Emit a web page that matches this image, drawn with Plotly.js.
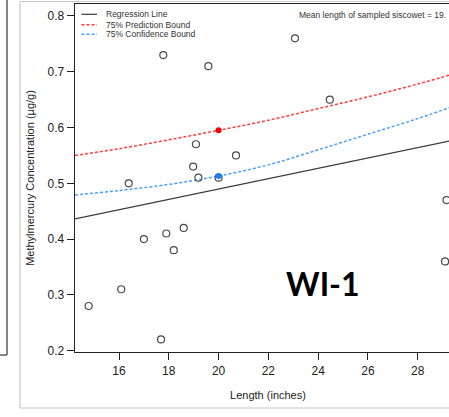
<!DOCTYPE html>
<html>
<head>
<meta charset="utf-8">
<script src="https://cdn.plot.ly/plotly-3.0.1.min.js"></script>
<style>
html,body{margin:0;padding:0;overflow:hidden;background:#fff;width:449px;height:417px;}
#chart{width:470px;height:417px;}
</style>
</head>
<body>
<div id="chart"></div>
<script>
// ---- data ----
var lengthIn = [17.78, 19.59, 23.07, 24.47, 19.09, 20.70, 18.98, 16.39, 19.19, 20.00, 17.00, 17.90, 18.60, 18.20, 29.16, 29.10, 14.78, 16.09, 17.69];
var mehg     = [0.73, 0.71, 0.76, 0.65, 0.57, 0.55, 0.53, 0.50, 0.51, 0.51, 0.40, 0.41, 0.42, 0.38, 0.47, 0.36, 0.28, 0.31, 0.22];

var regX = [14.23, 29.75];
var regY = [0.436, 0.580];

var boundX    = [14.23, 16, 18, 20, 22, 24, 26, 28, 29.75];
var predUpper = [0.550, 0.562, 0.578, 0.595, 0.613, 0.634, 0.655, 0.678, 0.700];
var confUpper = [0.479, 0.487, 0.498, 0.513, 0.533, 0.560, 0.588, 0.616, 0.643];

var meanX = [20];
var predAtMean = [0.595];
var confAtMean = [0.513];

var xTicks = [16, 18, 20, 22, 24, 26, 28];
var yTicks = [0.2, 0.3, 0.4, 0.5, 0.6, 0.7, 0.8];

var legendLabels = ['Regression Line', '75% Prediction Bound', '75% Confidence Bound'];
var noteText = 'Mean length of sampled siscowet = 19.';
var siteLabel = 'WI-1';

// ---- geometry helpers (pixel -> paper) ----
var W = 470, H = 417, mL = 75, mR = 9, mT = 4, mB = 65;
var pw = W - mL - mR, ph = H - mT - mB;
function px(x){ return (x - mL) / pw; }
function py(y){ return (H - mB - y) / ph; }

var RED = '#ff3b3b', BLUE = '#4aa0ff', REG = '#3a3a3a', PT = '#4a4a4a';
var FONT = 'Liberation Sans, Arial, sans-serif';

var traces = [
  {x: regX, y: regY, mode: 'lines', line: {color: REG, width: 1.2}, hoverinfo: 'skip'},
  {x: boundX, y: predUpper, mode: 'lines', line: {color: RED, width: 1.5, dash: '3px,2px', shape: 'spline'}},
  {x: boundX, y: confUpper, mode: 'lines', line: {color: BLUE, width: 1.5, dash: '3px,2px', shape: 'spline'}},
  {x: lengthIn, y: mehg, mode: 'markers', marker: {symbol: 'circle-open', size: 7, color: PT, line: {width: 1.2, color: PT}}},
  {x: meanX, y: predAtMean, mode: 'markers', marker: {symbol: 'circle', size: 6, color: '#ff0000'}},
  {x: meanX, y: confAtMean, mode: 'markers', marker: {symbol: 'circle', size: 6, color: '#1a7fff'}}
];

var shapes = [
  // outer screenshot frame
  {type:'line', xref:'paper', yref:'paper', x0:px(20), x1:px(20), y0:py(2), y1:py(408), line:{color:'#c8c8c8', width:1.2}},
  {type:'line', xref:'paper', yref:'paper', x0:px(20), x1:px(470), y0:py(408), y1:py(408), line:{color:'#c8c8c8', width:1.2}},
  {type:'line', xref:'paper', yref:'paper', x0:px(20), x1:px(470), y0:py(1.5), y1:py(1.5), line:{color:'#c8c8c8', width:1.2}},
  {type:'line', xref:'paper', yref:'paper', x0:px(7), x1:px(7), y0:py(0), y1:py(355), line:{color:'#444', width:1.3}},
  {type:'line', xref:'paper', yref:'paper', x0:px(0), x1:px(7), y0:py(355), y1:py(355), line:{color:'#444', width:1.3}},
  // manual legend lines
  {type:'line', xref:'paper', yref:'paper', x0:px(81.5), x1:px(97), y0:py(14.3), y1:py(14.3), line:{color:REG, width:1.2}},
  {type:'line', xref:'paper', yref:'paper', x0:px(81.5), x1:px(97), y0:py(24.7), y1:py(24.7), line:{color:RED, width:1.5, dash:'3px,2px'}},
  {type:'line', xref:'paper', yref:'paper', x0:px(81.5), x1:px(97), y0:py(34.3), y1:py(34.3), line:{color:BLUE, width:1.5, dash:'3px,2px'}}
];

var legY = [14.3, 24.7, 34.3];
var annotations = legendLabels.map(function(t, i){
  return {text: t, xref:'paper', yref:'paper', x:px(103.5), y:py(legY[i]), xanchor:'left', yanchor:'middle',
          showarrow:false, font:{family:FONT, size:8.5, color:'#333'}};
});
annotations.push({text: noteText, xref:'paper', yref:'paper', x:px(448), y:py(15), xanchor:'right', yanchor:'middle',
                  showarrow:false, font:{family:FONT, size:8.5, color:'#333'}});
annotations.push({text: '<b>' + siteLabel + '</b>', xref:'paper', yref:'paper', x:px(323), y:py(283), xanchor:'center', yanchor:'middle',
                  showarrow:false, font:{family:'Lato, Open Sans, sans-serif', size:32, color:'#000'}});

var layout = {
  width: W, height: H,
  margin: {l: mL, r: mR, t: mT, b: mB, pad: 0},
  paper_bgcolor: '#fff', plot_bgcolor: '#fff',
  showlegend: false,
  font: {family: FONT, color: '#222'},
  xaxis: {
    range: [14.232, 29.74], tickvals: xTicks, ticktext: xTicks.map(String),
    showgrid: false, zeroline: false, showline: true, mirror: true, linecolor: '#222', linewidth: 1.4,
    ticks: 'outside', ticklen: 7, tickwidth: 1, tickcolor: '#222',
    tickfont: {family: FONT, size: 12, color: '#222'},
    title: {text: 'Length (inches)', font: {family: FONT, size: 11, color: '#222'}, standoff: 14}
  },
  yaxis: {
    range: [0.1975, 0.8215], tickvals: yTicks, ticktext: yTicks.map(function(v){return v.toFixed(1);}),
    showgrid: false, zeroline: false, showline: true, mirror: true, linecolor: '#222', linewidth: 1.4,
    ticks: 'outside', ticklen: 7, tickwidth: 1, tickcolor: '#222',
    tickfont: {family: FONT, size: 12, color: '#222'},
    title: {text: 'Methylmercury Concentration (µg/g)', font: {family: FONT, size: 11, color: '#222'}, standoff: 10}
  },
  shapes: shapes,
  annotations: annotations
};

Plotly.newPlot('chart', traces, layout, {displayModeBar: false, staticPlot: true});
</script>
</body>
</html>
